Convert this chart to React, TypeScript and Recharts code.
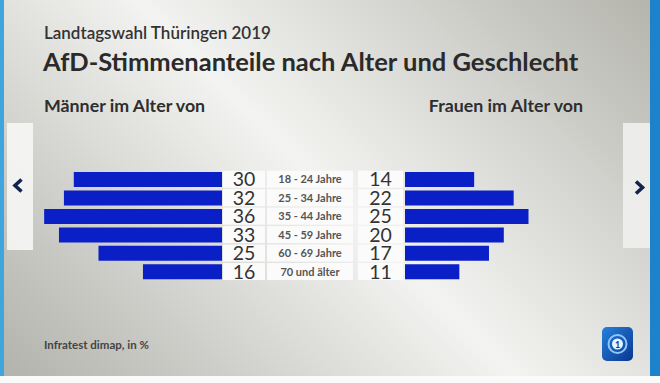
import React from "react";
import { BarChart, Bar, XAxis, YAxis } from "recharts";

const ageGroups = ["18 - 24 Jahre", "25 - 34 Jahre", "35 - 44 Jahre", "45 - 59 Jahre", "60 - 69 Jahre", "70 und älter"];
const menValues = [30, 32, 36, 33, 25, 16];
const womenValues = [14, 22, 25, 20, 17, 11];

const data = ageGroups.map((age, i) => ({ age, men: menValues[i], women: womenValues[i] }));

const BAR_COLOR = "#0a1fc6";
const FONT = "Lato, 'Open Sans', sans-serif";

const MiddleTick = (props: any) => {
  const { x, y, index } = props;
  const h = 17;
  const top = y - h / 2;
  return (
    <g>
      <rect x={x + 1} y={top} width={42} height={h} fill="#fbfbfb" />
      <rect x={x + 45} y={top} width={86} height={h} fill="#fbfbfb" />
      <rect x={x + 136} y={top} width={45} height={h} fill="#fbfbfb" />
      <text x={x + 22} y={y + 7} textAnchor="middle" fontSize={19.5} fill="#333" fontFamily={FONT}>
        {menValues[index]}
      </text>
      <text x={x + 88} y={y + 4} textAnchor="middle" fontSize={11} fontWeight={700} fill="#555" fontFamily={FONT}>
        {ageGroups[index]}
      </text>
      <text x={x + 158.5} y={y + 7} textAnchor="middle" fontSize={19.5} fill="#333" fontFamily={FONT}>
        {womenValues[index]}
      </text>
    </g>
  );
};

export default function App() {
  return (
    <div
      style={{
        position: "absolute",
        left: 0,
        top: 0,
        width: 660,
        height: 383,
        overflow: "hidden",
        background:
          "linear-gradient(45deg, #b2b2ac 0%, #cdcdc9 22%, #f3f3f1 50%, #d2d2ce 76%, #b4b4ac 100%)",
        fontFamily: FONT,
        color: "#2b2b2b",
      }}
    >
      {/* borders */}
      <div style={{ position: "absolute", left: 0, top: 0, width: 4, height: 383, background: "#3ea6dc" }} />
      <div style={{ position: "absolute", left: 650, top: 0, width: 10, height: 383, background: "#1c82cc" }} />
      <div style={{ position: "absolute", left: 0, top: 376, width: 660, height: 7, background: "#fafafa" }} />

      {/* nav panels */}
      <div style={{ position: "absolute", left: 7, top: 123, width: 26, height: 127, background: "rgba(246,246,245,0.9)" }} />
      <div style={{ position: "absolute", left: 623, top: 123, width: 27, height: 125, background: "rgba(240,240,238,0.9)" }} />
      <svg style={{ position: "absolute", left: 0, top: 0 }} width={660} height={383}>
        <polyline points="21.5,179.5 15,185.5 21.5,191.5" fill="none" stroke="#14224e" strokeWidth={3.6} />
        <polyline points="636,181.5 642.5,187.5 636,193.5" fill="none" stroke="#14224e" strokeWidth={3.6} />
        <defs>
          <linearGradient id="logoGrad" x1="0" y1="0" x2="1" y2="1">
            <stop offset="0%" stopColor="#2680dc" />
            <stop offset="100%" stopColor="#0a3690" />
          </linearGradient>
        </defs>
        <rect x={602} y={327} width={31} height={34} rx={5} fill="url(#logoGrad)" />
        <circle cx={617.5} cy={344} r={9} fill="none" stroke="#8cc8ff" strokeWidth={2} />
        <circle cx={617.5} cy={344} r={5.5} fill="#e8f4ff" />
        <text x={617.5} y={347.5} textAnchor="middle" fontSize={9} fontWeight={700} fill="#0a3c9a" fontFamily={FONT}>1</text>
      </svg>

      {/* texts */}
      <div style={{ position: "absolute", left: 44, top: 22, fontSize: 17, fontWeight: 600, whiteSpace: "nowrap", color: "#333" }}>
        Landtagswahl Thüringen 2019
      </div>
      <div style={{ position: "absolute", left: 43, top: 45.5, fontSize: 25.5, fontWeight: 700, whiteSpace: "nowrap", color: "#2a2a2a" }}>
        AfD-Stimmenanteile nach Alter und Geschlecht
      </div>
      <div style={{ position: "absolute", left: 44, top: 93.5, fontSize: 17.8, fontWeight: 700, whiteSpace: "nowrap", color: "#2e2e2e" }}>
        Männer im Alter von
      </div>
      <div style={{ position: "absolute", right: 660 - 583, top: 93.5, fontSize: 17.8, fontWeight: 700, whiteSpace: "nowrap", color: "#2e2e2e" }}>
        Frauen im Alter von
      </div>
      <div style={{ position: "absolute", left: 44, top: 338, fontSize: 11.5, fontWeight: 700, whiteSpace: "nowrap", color: "#444" }}>
        Infratest dimap, in %
      </div>

      {/* men chart with middle labels */}
      <div style={{ position: "absolute", left: 0, top: 0 }}>
        <BarChart
          width={405}
          height={290}
          data={data}
          layout="vertical"
          margin={{ top: 170, right: 0, bottom: 9.23, left: 24.4 }}
        >
          <XAxis type="number" domain={[0, 40]} reversed hide />
          <YAxis
            type="category"
            dataKey="age"
            orientation="right"
            width={183}
            axisLine={false}
            tickLine={false}
            tickSize={0}
            tickMargin={0}
            interval={0}
            tick={<MiddleTick />}
          />
          <Bar dataKey="men" fill={BAR_COLOR} barSize={15} isAnimationActive={false} />
        </BarChart>
      </div>

      {/* women chart */}
      <div style={{ position: "absolute", left: 405, top: 0 }}>
        <BarChart
          width={197.6}
          height={290}
          data={data}
          layout="vertical"
          margin={{ top: 170, right: 0, bottom: 9.23, left: 0 }}
        >
          <XAxis type="number" domain={[0, 40]} hide />
          <YAxis type="category" dataKey="age" hide />
          <Bar dataKey="women" fill={BAR_COLOR} barSize={15} isAnimationActive={false} />
        </BarChart>
      </div>
    </div>
  );
}
